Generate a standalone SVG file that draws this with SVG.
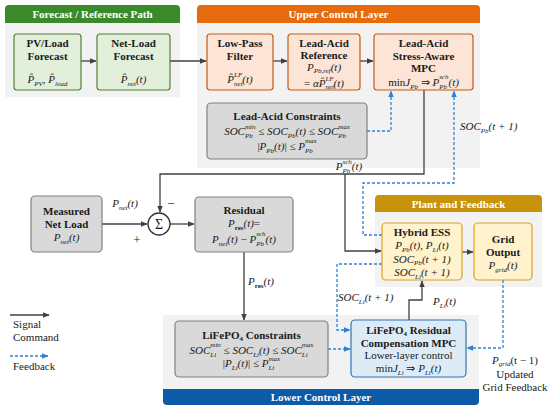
<svg xmlns="http://www.w3.org/2000/svg" width="550" height="410" viewBox="0 0 550 410">
<defs>
<style>
.pbg{fill:#f2f2f2}
.hd{font:bold 11px "Liberation Serif",serif;fill:#fff;text-anchor:middle}
.t{font:bold 11px "Liberation Serif",serif;fill:#1a1a1a;text-anchor:middle}
.m{font:italic 11px "Liberation Serif",serif;fill:#1a1a1a;text-anchor:middle}
.r{font:11px "Liberation Serif",serif;fill:#1a1a1a;text-anchor:middle}
.lg{font:11px "Liberation Serif",serif;fill:#1a1a1a}
.s{font-size:7px}
.up{font-style:normal}
.gn{fill:#e2efda;stroke:#538135;stroke-width:1.2}
.or{fill:#fce4d6;stroke:#c55a11;stroke-width:1.2}
.gy{fill:#d9d9d9;stroke:#808080;stroke-width:1.2}
.yl{fill:#fff2cc;stroke:#d9a41a;stroke-width:1.2}
.bl{fill:#ddebf7;stroke:#2e75b6;stroke-width:1.2}
.ln{fill:none;stroke:#404040;stroke-width:1.3}
.fb{fill:none;stroke:#2f7fd8;stroke-width:1.3;stroke-dasharray:3 2}
</style>
<marker id="a" viewBox="0 0 10 10" refX="9" refY="5" markerUnits="userSpaceOnUse" markerWidth="7" markerHeight="7" orient="auto"><path d="M0,1 L10,5 L0,9 z" fill="#404040"/></marker>
<marker id="b" viewBox="0 0 10 10" refX="9" refY="5" markerUnits="userSpaceOnUse" markerWidth="7" markerHeight="7" orient="auto"><path d="M0,1 L10,5 L0,9 z" fill="#2f7fd8"/></marker>
</defs>

<g id="panels">
<rect class="pbg" x="5" y="23" width="175" height="74"/>
<path d="M5,23 V9 Q5,5 9,5 H176 Q180,5 180,9 V23 Z" fill="#3a8a2c"/>
<text class="hd" x="92.5" y="18">Forecast / Reference Path</text>
<rect class="pbg" x="197" y="23" width="283" height="145"/>
<path d="M197,23 V9 Q197,5 201,5 H476 Q480,5 480,9 V23 Z" fill="#e56b0e"/>
<text class="hd" x="338.5" y="18">Upper Control Layer</text>
<rect class="pbg" x="375" y="212" width="167" height="75"/>
<path d="M375,212 V199 Q375,195 379,195 H538 Q542,195 542,199 V212 Z" fill="#c8920a"/>
<text class="hd" x="458.5" y="207.5">Plant and Feedback</text>
<rect class="pbg" x="163" y="315" width="316" height="74"/>
<path d="M163,389 H479 V401 Q479,405 475,405 H167 Q163,405 163,401 Z" fill="#0d5aa7"/>
<text class="hd" x="321" y="401">Lower Control Layer</text>
</g>

<g id="connectors">
<path class="ln" d="M81,61 H96" marker-end="url(#a)"/>
<path class="ln" d="M170,61 H206" marker-end="url(#a)"/>
<path class="ln" d="M273,61 H287" marker-end="url(#a)"/>
<path class="ln" d="M360,61 H373" marker-end="url(#a)"/>
<path class="ln" d="M424,90 V174 H160 V212" marker-end="url(#a)"/>
<path class="ln" d="M345,174 V251 H381" marker-end="url(#a)"/>
<path class="ln" d="M102,224 H147" marker-end="url(#a)"/>
<path class="ln" d="M170,224 H194" marker-end="url(#a)"/>
<path class="ln" d="M244,252 V320" marker-end="url(#a)"/>
<path class="ln" d="M409,320 V300 H422 V281" marker-end="url(#a)"/>
<path class="ln" d="M462,252 H473" marker-end="url(#a)"/>
<path class="fb" d="M367,131 H391 V91" marker-end="url(#b)"/>
<path class="fb" d="M382,235 H363 V183 H454 V91" marker-end="url(#b)"/>
<path class="fb" d="M382,264 H337 V330 H350" marker-end="url(#b)"/>
<path class="fb" d="M328,349 H350" marker-end="url(#b)"/>
<path class="fb" d="M503,280 V348 H467" marker-end="url(#b)"/>
<text class="m" x="125" y="207">P<tspan class="s" dy="3">net</tspan><tspan dy="-3">(t)</tspan></text>
<text class="r" x="137" y="244" style="font-size:13px">+</text>
<text class="r" x="171" y="208" style="font-size:13px">−</text>
<text class="m" x="349" y="170">P<tspan class="s" dy="3">Pb</tspan><tspan class="s" dx="-7.8" dy="-9.5">sch</tspan><tspan dy="6.5">(t)</tspan></text>
<text class="m" x="460" y="130" style="text-anchor:start">SOC<tspan class="s" dy="3">Pb</tspan><tspan dy="-3">(t + 1)</tspan></text>
<text class="m" x="338" y="301" style="text-anchor:start">SOC<tspan class="s" dy="3">Li</tspan><tspan dy="-3">(t + 1)</tspan></text>
<text class="m" x="433" y="305" style="text-anchor:start">P<tspan class="s" dy="3">Li</tspan><tspan dy="-3">(t)</tspan></text>
<text class="m" x="248" y="285" style="text-anchor:start">P<tspan class="s up" dy="3" font-weight="bold">res</tspan><tspan dy="-3">(t)</tspan></text>
<text class="m" x="515" y="364">P<tspan class="s" dy="2">grid</tspan><tspan dy="-2" class="up">(t − 1)</tspan></text>
<text class="r" x="515" y="378">Updated</text>
<text class="r" x="515" y="391">Grid Feedback</text>
</g>

<g id="legend">
<path class="ln" d="M10,315 H49" marker-end="url(#a)"/>
<text class="lg" x="13" y="328">Signal</text>
<text class="lg" x="13" y="341">Command</text>
<path class="fb" d="M10,356 H48" marker-end="url(#b)"/>
<text class="lg" x="13" y="370">Feedback</text>
</g>

<g id="pv-load-forecast">
<rect class="gn" x="14" y="34" width="67" height="56" rx="3"/>
<text class="t" x="47.5" y="47">PV/Load</text>
<text class="t" x="47.5" y="60">Forecast</text>
<text class="m" x="47.5" y="83">P̂<tspan class="s" dy="3">PV</tspan><tspan dy="-3">, P̂</tspan><tspan class="s" dy="3">load</tspan></text>
</g>

<g id="net-load-forecast">
<rect class="gn" x="97" y="34" width="73" height="56" rx="3"/>
<text class="t" x="133.5" y="47">Net-Load</text>
<text class="t" x="133.5" y="60">Forecast</text>
<text class="m" x="133.5" y="83">P̂<tspan class="s" dy="3">net</tspan><tspan dy="-3">(t)</tspan></text>
</g>

<g id="low-pass-filter">
<rect class="or" x="207" y="34" width="66" height="56" rx="3"/>
<text class="t" x="240" y="47">Low-Pass</text>
<text class="t" x="240" y="60">Filter</text>
<text class="m" x="240" y="83">P̂<tspan class="s" dy="3">net</tspan><tspan class="s" dx="-8.6" dy="-9.5">LF</tspan><tspan dy="6.5">(t)</tspan></text>
</g>

<g id="lead-acid-reference">
<rect class="or" x="288" y="34" width="72" height="56" rx="3"/>
<text class="t" x="324" y="46.5">Lead-Acid</text>
<text class="t" x="324" y="59">Reference</text>
<text class="m" x="324" y="70.5">P<tspan class="s" dy="2.5">Pb,ref</tspan><tspan dy="-2.5">(t)</tspan></text>
<text class="m" x="324" y="86.5"><tspan class="up">= </tspan>αP̂<tspan class="s" dy="2.5">net</tspan><tspan class="s" dx="-8.6" dy="-8">LF</tspan><tspan dy="5.5">(t)</tspan></text>
</g>

<g id="lead-acid-mpc">
<rect class="or" x="374" y="34" width="99" height="56" rx="3"/>
<text class="t" x="423.5" y="47">Lead-Acid</text>
<text class="t" x="423.5" y="60">Stress-Aware</text>
<text class="t" x="423.5" y="72">MPC</text>
<text class="m" x="423.5" y="85.5"><tspan class="up">min</tspan>J<tspan class="s" dy="3">Pb</tspan><tspan dy="-3" class="up"> ⇒ </tspan>P<tspan class="s" dy="3">Pb</tspan><tspan class="s" dx="-7.8" dy="-9.5">sch</tspan><tspan dy="6.5">(t)</tspan></text>
</g>

<g id="lead-acid-constraints">
<rect class="gy" x="207" y="103" width="160" height="56" rx="4"/>
<text class="t" x="287" y="120">Lead-Acid Constraints</text>
<text class="m" x="287" y="135">SOC<tspan class="s" dy="3">Pb</tspan><tspan class="s" dx="-7.8" dy="-9.5">min</tspan><tspan dy="6.5" class="up"> ≤ </tspan>SOC<tspan class="s" dy="3">Pb</tspan><tspan dy="-3">(t)</tspan><tspan class="up"> ≤ </tspan>SOC<tspan class="s" dy="3">Pb</tspan><tspan class="s" dx="-7.8" dy="-9.5">max</tspan></text>
<text class="m" x="287" y="149.5"><tspan class="up">|</tspan>P<tspan class="s" dy="3">Pb</tspan><tspan dy="-3">(t)</tspan><tspan class="up">| ≤ </tspan>P<tspan class="s" dy="3">Pb</tspan><tspan class="s" dx="-7.8" dy="-9.5">max</tspan></text>
</g>

<g id="measured-net-load">
<rect class="gy" x="31" y="196" width="71" height="56" rx="4"/>
<text class="t" x="66.5" y="215">Measured</text>
<text class="t" x="66.5" y="228">Net Load</text>
<text class="m" x="66.5" y="241">P<tspan class="s" dy="3">net</tspan><tspan dy="-3">(t)</tspan></text>
</g>

<g id="sum">
<circle cx="159" cy="224" r="11" fill="#fff" stroke="#333" stroke-width="1.3"/>
<text class="r" x="159" y="229" style="font-size:14px">Σ</text>
</g>

<g id="residual">
<rect class="gy" x="195" y="197" width="98" height="55" rx="4"/>
<text class="t" x="244" y="214">Residual</text>
<text class="m" x="244" y="227">P<tspan class="s up" dy="3" font-weight="bold">res</tspan><tspan dy="-3">(t)</tspan><tspan class="up">=</tspan></text>
<text class="m" x="244" y="242.5">P<tspan class="s" dy="3">net</tspan><tspan dy="-3">(t)</tspan><tspan class="up"> − </tspan>P<tspan class="s" dy="3">Pb</tspan><tspan class="s" dx="-7.8" dy="-9.5">sch</tspan><tspan dy="6.5">(t)</tspan></text>
</g>

<g id="hybrid-ess">
<rect class="yl" x="382" y="223" width="80" height="57" rx="4"/>
<text class="t" x="422" y="236">Hybrid ESS</text>
<text class="m" x="422" y="249">P<tspan class="s" dy="2.5">Pb</tspan><tspan dy="-2.5">(t), </tspan>P<tspan class="s" dy="2.5">Li</tspan><tspan dy="-2.5">(t)</tspan></text>
<text class="m" x="422" y="262.5">SOC<tspan class="s" dy="2.5">Pb</tspan><tspan dy="-2.5">(t + 1)</tspan></text>
<text class="m" x="422" y="276">SOC<tspan class="s" dy="2.5">Li</tspan><tspan dy="-2.5">(t + 1)</tspan></text>
</g>

<g id="grid-output">
<rect class="yl" x="474" y="223" width="58" height="57" rx="4"/>
<text class="t" x="503" y="243">Grid</text>
<text class="t" x="503" y="256">Output</text>
<text class="m" x="503" y="268.5">P<tspan class="s" dy="3">grid</tspan><tspan dy="-3">(t)</tspan></text>
</g>

<g id="lifepo4-constraints">
<rect class="gy" x="175" y="321" width="153" height="56" rx="4"/>
<text class="t" x="251.5" y="339">LiFePO<tspan class="s" dy="2">4</tspan><tspan dy="-2">  Constraints</tspan></text>
<text class="m" x="251.5" y="353.5">SOC<tspan class="s" dy="3">Li</tspan><tspan class="s" dx="-5.8" dy="-9.5">min</tspan><tspan dy="6.5" class="up"> ≤ </tspan>SOC<tspan class="s" dy="3">Li</tspan><tspan dy="-3">(t)</tspan><tspan class="up"> ≤ </tspan>SOC<tspan class="s" dy="3">Li</tspan><tspan class="s" dx="-5.8" dy="-9.5">max</tspan></text>
<text class="m" x="251.5" y="367"><tspan class="up">|</tspan>P<tspan class="s" dy="3">Li</tspan><tspan dy="-3">(t)</tspan><tspan class="up">| ≤ </tspan>P<tspan class="s" dy="3">Li</tspan><tspan class="s" dx="-5.8" dy="-9.5">max</tspan></text>
</g>

<g id="lifepo4-mpc">
<rect class="bl" x="351" y="320" width="115" height="57" rx="4"/>
<text class="t" x="408.5" y="333.5">LiFePO<tspan class="s" dy="2">4</tspan><tspan dy="-2">  Residual</tspan></text>
<text class="t" x="408.5" y="347">Compensation MPC</text>
<text class="r" x="408.5" y="359">Lower-layer control</text>
<text class="m" x="408.5" y="372"><tspan class="up">min</tspan>J<tspan class="s" dy="3">Li</tspan><tspan dy="-3" class="up">  ⇒ </tspan>P<tspan class="s" dy="3">Li</tspan><tspan dy="-3">(t)</tspan></text>
</g>
</svg>
